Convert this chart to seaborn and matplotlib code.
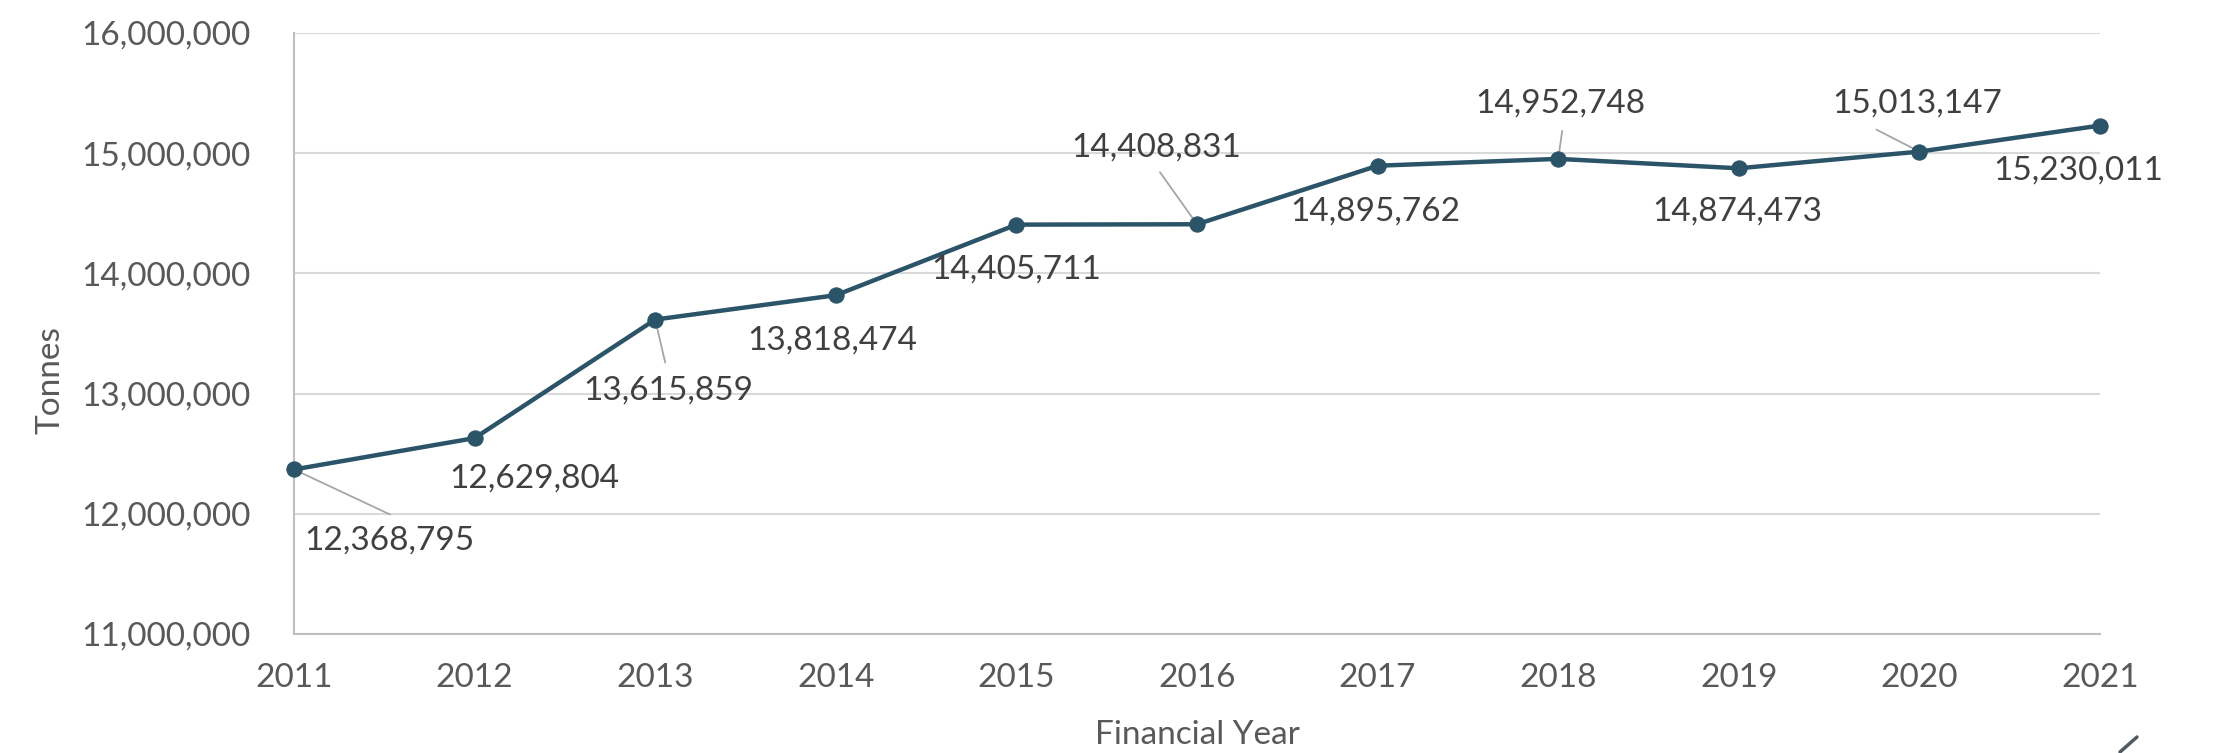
import matplotlib
matplotlib.use("Agg")
import matplotlib.pyplot as plt
import matplotlib.ticker as mticker
from matplotlib.lines import Line2D
import seaborn as sns
import pandas as pd

# ---- data ----
years = [2011, 2012, 2013, 2014, 2015, 2016, 2017, 2018, 2019, 2020, 2021]
tonnes = [12368795, 12629804, 13615859, 13818474, 14405711, 14408831,
          14895762, 14952748, 14874473, 15013147, 15230011]
y_ticks = [11000000, 12000000, 13000000, 14000000, 15000000, 16000000]

# label placement (pixel offsets from each point) and optional leader-line ends
label_offsets = [(95, -71), (60, -40), (13, -71), (-3, -45), (0, -45), (-41, 77),
                 (-2, -46), (2, 55), (-1, -43), (-2, 48), (-22, -45)]
leader_ends = {0: (96, -45), 2: (10, -43), 5: (-37, 52), 7: (4, 28), 9: (-43, 22)}

df = pd.DataFrame({"Financial Year": years, "Tonnes": tonnes})

sns.set_theme(style="white")
plt.rcParams["font.family"] = ["Lato", "DejaVu Sans"]

LINE = "#2B5468"
TICK = "#595959"
LABEL = "#404040"
GRID = "#D9D9D9"
FS = 24

fig = plt.figure(figsize=(22.18, 7.53), dpi=100)
ax = fig.add_axes([294 / 2218, 1 - 634 / 753, (2100 - 294) / 2218, (634 - 33) / 753])

sns.lineplot(data=df, x="Financial Year", y="Tonnes", ax=ax, color=LINE,
             linewidth=3.2, marker="o", markersize=11, markeredgecolor=LINE,
             markerfacecolor=LINE, zorder=5, clip_on=False)

ax.set_xlim(years[0], years[-1])
ax.set_ylim(y_ticks[0], y_ticks[-1])
ax.set_xticks(years)
ax.set_xticklabels([str(y) for y in years])
ax.set_yticks(y_ticks)
ax.yaxis.set_major_formatter(mticker.FuncFormatter(lambda v, p: f"{int(v):,}"))
ax.grid(axis="y", color=GRID, linewidth=1.5)
ax.grid(axis="x", visible=False)
ax.set_axisbelow(True)
for s in ["top", "right"]:
    ax.spines[s].set_visible(False)
for s in ["left", "bottom"]:
    ax.spines[s].set_color("#BFBFBF")
    ax.spines[s].set_linewidth(1.5)
ax.tick_params(axis="both", length=0, labelsize=FS, labelcolor=TICK)
ax.tick_params(axis="y", pad=31)
ax.tick_params(axis="x", pad=21)
ax.set_xlabel("")
ax.set_ylabel("")

for i, (x, y) in enumerate(zip(years, tonnes)):
    if i in leader_ends:
        ax.annotate("", xy=(x, y), xytext=leader_ends[i], textcoords="offset pixels",
                    arrowprops=dict(arrowstyle="-", color="#A6A6A6", lw=1.3,
                                    shrinkA=0, shrinkB=0), zorder=4)
    ax.annotate(f"{y:,}", xy=(x, y), xytext=label_offsets[i], textcoords="offset pixels",
                ha="center", va="center", fontsize=FS, color=LABEL, zorder=6,
                annotation_clip=False)

fig.text(1197 / 2218, 1 - 735 / 753, "Financial Year", ha="center", va="center",
         fontsize=FS, color=TICK)
fig.text(50 / 2218, 1 - 380 / 753, "Tonnes", ha="center", va="center",
         rotation=90, fontsize=FS, color=TICK)

# small corner handle seen at bottom right of the reference
fig.add_artist(Line2D([2120 / 2218, 2137 / 2218], [1 - 752 / 753, 1 - 737 / 753],
                      transform=fig.transFigure, color="#505A62", lw=2.5))

fig.savefig("out.png", dpi=100)
